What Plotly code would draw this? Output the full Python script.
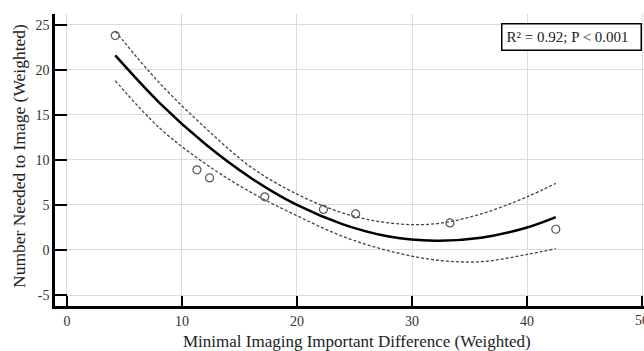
import plotly.graph_objects as go

# Observed data points
obs_x = [4.2, 11.3, 12.4, 17.2, 22.3, 25.1, 33.3, 42.5]
obs_y = [23.8, 8.9, 8.0, 5.9, 4.5, 4.0, 3.0, 2.3]

# Fitted curve and confidence band
fit_x = [4.2, 8, 12, 16, 20, 24, 28, 32, 36, 40, 42.5]
fit_y = [21.6, 16.4, 11.8, 8.0, 5.0, 2.85, 1.5, 1.03, 1.35, 2.5, 3.65]
upper_y = [24.3, 18.6, 13.6, 9.2, 6.2, 4.1, 3.0, 2.9, 4.0, 5.9, 7.4]
lower_y = [18.8, 13.6, 9.6, 6.4, 3.8, 1.5, -0.1, -1.1, -1.3, -0.5, 0.15]

x_ticks = [0, 10, 20, 30, 40, 50]
y_ticks = [-5, 0, 5, 10, 15, 20, 25]
y_ticktext = ["-5", "0", "5", "10", "15", "20", "25"]

FONT = "Liberation Serif"
W, H = 644, 351
ML, MR, MT, MB = 55, 0, 14, 45
PW, PH = W - ML - MR, H - MT - MB

fig = go.Figure()
for band in (upper_y, lower_y):
    fig.add_trace(go.Scatter(x=fit_x, y=band, mode="lines",
                             line=dict(color="#444444", width=1.3, dash="3px,2px", shape="spline"),
                             hoverinfo="skip", showlegend=False))
fig.add_trace(go.Scatter(x=fit_x, y=fit_y, mode="lines",
                         line=dict(color="black", width=2.5, shape="spline"),
                         showlegend=False))
fig.add_trace(go.Scatter(x=obs_x, y=obs_y, mode="markers",
                         marker=dict(symbol="circle-open", size=8, color="#555555",
                                     line=dict(width=1.2, color="#555555")),
                         showlegend=False))

fig.add_annotation(xref="paper", yref="paper", x=(642 - ML) / PW, y=(H - MB - 23) / PH,
                   xanchor="right", yanchor="top", align="left", width=130, height=17,
                   text="R² = 0.92; P < 0.001", showarrow=False,
                   font=dict(family=FONT, size=15, color="#222222"),
                   bordercolor="black", borderwidth=1.5, borderpad=4, bgcolor="white")

# axis titles as annotations (exact placement)
fig.add_annotation(xref="paper", yref="paper", x=(357 - ML) / PW, y=(H - MB - 341) / PH,
                   xanchor="center", yanchor="middle", showarrow=False,
                   text="Minimal Imaging Important Difference (Weighted)",
                   font=dict(family=FONT, size=17, color="#222222"))
fig.add_annotation(xref="paper", yref="paper", x=(19 - ML) / PW, y=(H - MB - 156) / PH,
                   xanchor="center", yanchor="middle", showarrow=False, textangle=-90,
                   text="Number Needed to Image (Weighted)",
                   font=dict(family=FONT, size=17.5, color="#222222"))
# last x tick label sits on the page edge (partly cut off, as in the reference)
fig.add_annotation(xref="x", yref="paper", x=x_ticks[-1], y=(H - MB - 320) / PH,
                   xanchor="center", yanchor="middle", showarrow=False,
                   text=str(x_ticks[-1]), font=dict(family=FONT, size=14, color="#333333"))

fig.update_layout(
    width=W, height=H,
    margin=dict(l=ML, r=MR, t=MT, b=MB),
    paper_bgcolor="white", plot_bgcolor="white",
    font=dict(family=FONT, size=14, color="#333333"),
    xaxis=dict(range=[-1.04, 50.17], tickvals=x_ticks, ticks="inside", ticklen=10, tickwidth=2,
               tickcolor="black", showline=True, linecolor="black", linewidth=2.5,
               showgrid=True, gridcolor="#dcdcdc", gridwidth=1, zeroline=False, automargin=False,
               tickfont=dict(family=FONT, size=14, color="#333333")),
    yaxis=dict(range=[-6.22, 26.2], tickvals=y_ticks, ticktext=y_ticktext, ticks="inside",
               ticklen=12, tickwidth=2,
               tickcolor="black", showline=True, linecolor="black", linewidth=2.5,
               showgrid=True, gridcolor="#dcdcdc", gridwidth=1, zeroline=False, automargin=False,
               tickfont=dict(family=FONT, size=14, color="#333333")),
)

fig.write_html("out.html", config={"displayModeBar": False},
               post_script="document.body.style.margin='0';")
